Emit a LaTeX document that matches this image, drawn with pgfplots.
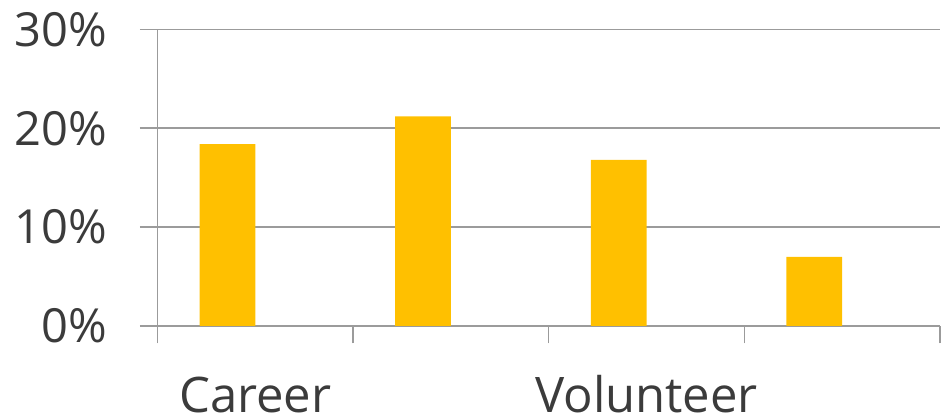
\documentclass[border=0pt]{standalone}
\usepackage{fontspec}
\setmainfont{Open Sans}
\usepackage{pgfplots}
\pgfplotsset{compat=1.18}
\definecolor{bargold}{HTML}{FFC000}
\definecolor{gridgray}{HTML}{9B9B9B}
\definecolor{txtgray}{HTML}{3B3B3B}
\begin{document}
\begin{tikzpicture}
\useasboundingbox (0,0) rectangle (947bp,419bp);
\begin{axis}[
  at={(157.5bp,93bp)}, anchor=south west,
  scale only axis, width=782.5bp, height=296.7bp,
  xmin=-0.5, xmax=3.5, ymin=0, ymax=30,
  axis x line*=bottom, axis y line*=left,
  axis line style={-, draw=gridgray, line width=1.4bp},
  ytick={0,10,20,30},
  yticklabels={0\%,10\%,20\%,30\%},
  ymajorgrids,
  grid style={draw=gridgray, line width=1.4bp},
  xtick={-0.5,0.5,1.5,2.5,3.5},
  xticklabels={},
  extra x ticks={0,2},
  extra x tick labels={Career,Volunteer},
  extra x tick style={major tick length=0pt, grid=none},
  tick align=outside,
  major tick length=17.5bp,
  tick style={draw=gridgray, line width=1.4bp},
  tick label style={font=\fontsize{49bp}{58bp}\selectfont, text=txtgray},
  yticklabel style={anchor=east, inner sep=0pt, xshift=-33bp, font=\fontsize{47bp}{56bp}\selectfont},
  xticklabel style={anchor=base, inner sep=0pt, yshift=-86bp},
  ybar, bar width=0.285, bar shift=0pt,
]
\addplot[draw=none, fill=bargold] coordinates {(-0.1425,18.4) (0.8575,21.2) (1.8575,16.8) (2.8575,7.0)};
\end{axis}
\end{tikzpicture}
\end{document}
